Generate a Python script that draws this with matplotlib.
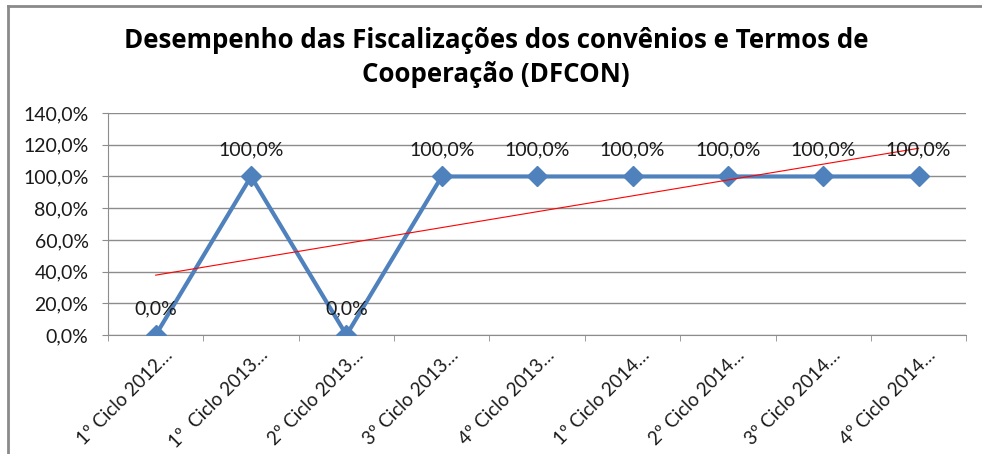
import numpy as np
import matplotlib
matplotlib.use("Agg")
import matplotlib.pyplot as plt
import matplotlib.transforms as mtransforms
from matplotlib.lines import Line2D
from matplotlib.ticker import FuncFormatter, FixedLocator

plt.rcParams['font.family'] = ['Lato', 'DejaVu Sans']

ciclos = ["1º Ciclo 2012…", "1º  Ciclo 2013…", "2º Ciclo 2013…", "3º Ciclo 2013…",
          "4º Ciclo 2013…", "1º Ciclo 2014…", "2º Ciclo 2014…", "3º Ciclo 2014…",
          "4º Ciclo 2014…"]
desempenho = [0.0, 100.0, 0.0, 100.0, 100.0, 100.0, 100.0, 100.0, 100.0]
titulo_l1 = "Desempenho das Fiscalizações dos convênios e Termos de"
titulo_l2 = "Cooperação (DFCON)"

def pct(v, pos=None):
    return f"{v:.1f}%".replace(".", ",")

fig = plt.figure(figsize=(9.82, 4.54), dpi=100)
ax = fig.add_axes([0.110, 0.262, 0.874, 0.489])

x = np.arange(len(ciclos))
ax.plot(x, desempenho, color="#4F81BD", linewidth=3, marker="D", markersize=10,
        zorder=3)

# linha de tendência linear
a, b = np.polyfit(x, desempenho, 1)
ax.plot(x, a * x + b, color="red", linewidth=0.8, zorder=4)

for xi, v in zip(x, desempenho):
    ax.annotate(pct(v), (xi, v), xytext=(0, 19), textcoords="offset points",
                ha="center", va="center", fontsize=14, color="#1a1a1a", zorder=5)

ax.set_xlim(-0.5, len(ciclos) - 0.5)
ax.set_ylim(0, 140)
ax.set_yticks(np.arange(0, 141, 20))
ax.yaxis.set_major_formatter(FuncFormatter(pct))
ax.grid(axis="y", color="#8c8c8c", linewidth=1)
ax.set_axisbelow(True)

ax.set_xticks(x)
ax.set_xticklabels(ciclos, rotation=45, ha="right", va="top",
                   rotation_mode="anchor", fontsize=13.5, color="#1a1a1a")
ax.tick_params(axis="x", length=0, pad=8)
desloc = mtransforms.ScaledTranslation(6 / 72, 0, fig.dpi_scale_trans)
for lbl in ax.get_xticklabels():
    lbl.set_transform(lbl.get_transform() + desloc)
ax.xaxis.set_minor_locator(FixedLocator(np.arange(-0.5, len(ciclos), 1)))
ax.tick_params(axis="x", which="minor", length=4, color="#8c8c8c")
ax.tick_params(axis="y", length=4, color="#8c8c8c", labelsize=14,
               labelcolor="#1a1a1a", pad=10)

for s in ["top", "right"]:
    ax.spines[s].set_visible(False)
for s in ["left", "bottom"]:
    ax.spines[s].set_color("#8c8c8c")

fig.text(0.505, 0.894, titulo_l1, ha="center", va="baseline", fontsize=18.6,
         fontweight="bold", family="Open Sans")
fig.text(0.505, 0.819, titulo_l2, ha="center", va="baseline", fontsize=18.6,
         fontweight="bold", family="Open Sans")

# moldura do gráfico
fig.add_artist(Line2D([0.008, 1.0], [0.987, 0.987], color="#8a8a8a", linewidth=2))
fig.add_artist(Line2D([0.008, 0.008], [0.0, 0.987], color="#8a8a8a", linewidth=2))

fig.savefig("out.png", dpi=100)
